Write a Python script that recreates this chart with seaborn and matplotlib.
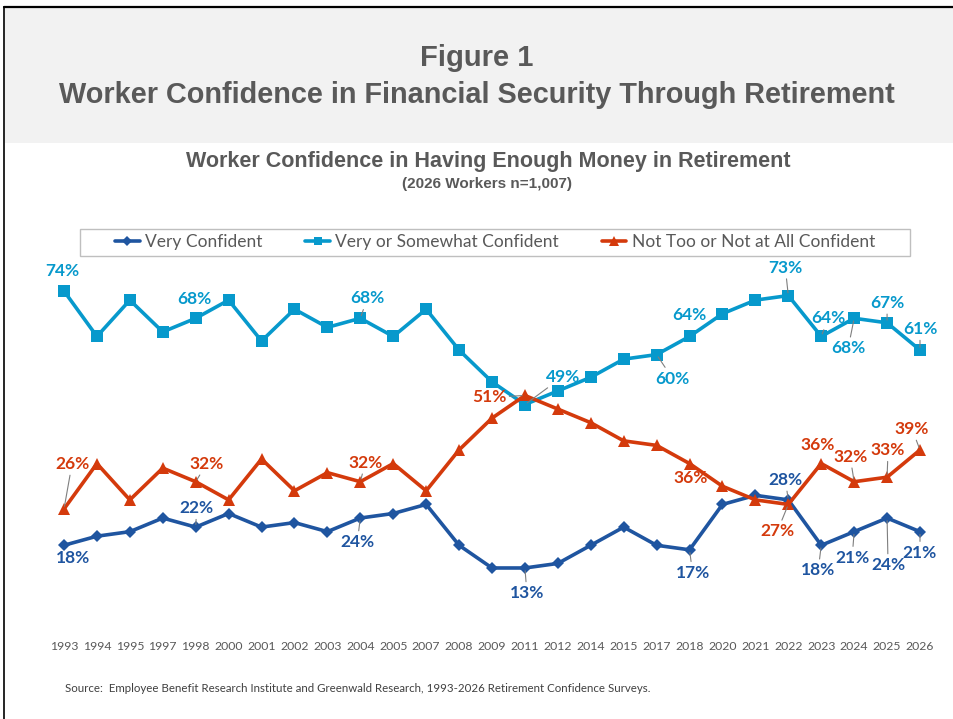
import matplotlib
matplotlib.use("Agg")
import matplotlib.pyplot as plt
from matplotlib.patches import Rectangle
from matplotlib.lines import Line2D
import numpy as np
import pandas as pd
import seaborn as sns

# ---------------- data ----------------
years = ["1993", "1994", "1995", "1997", "1998", "2000", "2001", "2002", "2003",
         "2004", "2005", "2007", "2008", "2009", "2011", "2012", "2014", "2015",
         "2017", "2018", "2020", "2021", "2022", "2023", "2024", "2025", "2026"]
very_confident = [18, 20, 21, 24, 22, 25, 22, 23, 21, 24, 25, 27, 18, 13, 13, 14,
                  18, 22, 18, 17, 27, 29, 28, 18, 21, 24, 21]
very_or_somewhat = [74, 64, 72, 65, 68, 72, 63, 70, 66, 68, 64, 70, 61, 54, 49, 52,
                    55, 59, 60, 64, 69, 72, 73, 64, 68, 67, 61]
not_too = [26, 36, 28, 35, 32, 28, 37, 30, 34, 32, 36, 30, 39, 46, 51, 48,
           45, 41, 40, 36, 31, 28, 27, 36, 32, 33, 39]
series_names = ["Very Confident", "Very or Somewhat Confident",
                "Not Too or Not at All Confident"]

# labelled points: year -> (dx px, dy px, leader line)
vc_labels = {"1993": (9, -13, False), "1998": (1, 19, True), "2004": (-3, -24, True),
             "2011": (2, -25, True), "2018": (3, -23, True), "2022": (-3, 20, True),
             "2023": (-3, -25, True), "2024": (-2, -26, True), "2025": (1, -47, True),
             "2026": (0, -21, True)}
vsc_labels = {"1993": (-2, 20, False), "1998": (-1, 19, False), "2004": (7, 20, True),
              "2011": (38, 28, True), "2017": (16, -24, True), "2018": (0, 21, False),
              "2022": (-3, 28, True), "2023": (7, 18, True), "2024": (-6, -30, True),
              "2025": (0, 20, True), "2026": (0, 21, True)}
nt_labels = {"1993": (8, 45, True), "1998": (11, 18, True), "2004": (5, 19, True),
             "2011": (-36, -2, True), "2018": (1, -14, False), "2022": (-11, -27, True),
             "2023": (-4, 19, False), "2024": (-4, 25, True), "2025": (1, 27, True),
             "2026": (-8, 21, True)}

c_vc = "#1f55a0"
c_vsc = "#0799cc"
c_nt = "#d43a0c"
grey_txt = "#595959"

idx = np.arange(len(years))
df = pd.DataFrame({
    "idx": np.tile(idx, 3),
    "value": very_confident + very_or_somewhat + not_too,
    "series": np.repeat(series_names, len(years)),
})

sns.set_theme(style="white")
plt.rcParams["font.family"] = ["Lato", "DejaVu Sans"]

W, H = 954, 719
fig = plt.figure(figsize=(W / 100, H / 100), dpi=100)

# header band and borders
fig.patches.append(Rectangle((5 / W, (H - 143) / H), 1 - 5 / W, (143 - 7) / H,
                             transform=fig.transFigure, facecolor="#f2f2f2",
                             edgecolor="none", zorder=0))
fig.lines.append(Line2D([4 / W, 1], [(H - 6.5) / H] * 2, transform=fig.transFigure,
                        color="black", lw=1.6))
fig.lines.append(Line2D([4 / W, 4 / W], [0, (H - 6.5) / H], transform=fig.transFigure,
                        color="black", lw=1.2))

fig.text(0.5, 1 - 58 / H, "Figure 1", ha="center", va="center", fontsize=21,
         weight="bold", color=grey_txt, family=["Liberation Sans", "DejaVu Sans"])
fig.text(0.5, 1 - 95 / H, "Worker Confidence in Financial Security Through Retirement",
         ha="center", va="center", fontsize=20.8, weight="bold", color=grey_txt,
         family=["Liberation Sans", "DejaVu Sans"])
fig.text(488 / W, 1 - 161 / H, "Worker Confidence in Having Enough Money in Retirement",
         ha="center", va="center", fontsize=15.5, weight="bold", color=grey_txt,
         family=["Liberation Sans", "DejaVu Sans"])
fig.text(487 / W, 1 - 184 / H, "(2026 Workers n=1,007)", ha="center", va="center",
         fontsize=11, weight="bold", color=grey_txt,
         family=["Liberation Sans", "DejaVu Sans"])

# axes
ax = fig.add_axes([40 / W, (H - 627) / H, 904 / W, 4.54 * 80 / H])
ax.set_facecolor("none")

styles = [
    (series_names[0], c_vc, "D", 6.5),
    (series_names[1], c_vsc, "s", 8.5),
    (series_names[2], c_nt, "^", 9),
]
for name, col, mk, ms in styles:
    sub = df[df["series"] == name]
    sns.lineplot(data=sub, x="idx", y="value", color=col, marker=mk, markersize=ms,
                 markeredgewidth=0, lw=2.6, ax=ax, legend=False, sort=False)

ax.set_xlim(-24 / 32.923, 880 / 32.923)
ax.set_ylim(0, 80)
ax.set_xticks(idx)
ax.set_xticklabels(years, fontsize=8.8, color=grey_txt)
ax.tick_params(axis="x", length=0, pad=10)
ax.set_yticks([])
ax.set_xlabel("")
ax.set_ylabel("")
for s in ax.spines.values():
    s.set_visible(False)


def add_labels(values, labels, color):
    for yr, (dx, dy, leader) in labels.items():
        i = years.index(yr)
        v = values[i]
        kw = {}
        if leader:
            kw["arrowprops"] = dict(arrowstyle="-", color="#7f7f7f", lw=0.8,
                                    shrinkA=0, shrinkB=2)
        ax.annotate(f"{v}%", xy=(i, v), xytext=(dx, dy), textcoords="offset pixels",
                    ha="center", va="center", fontsize=12.5, weight="bold",
                    color=color, zorder=5, **kw)


add_labels(very_confident, vc_labels, c_vc)
add_labels(very_or_somewhat, vsc_labels, c_vsc)
add_labels(not_too, nt_labels, c_nt)

# legend
fig.patches.append(Rectangle((80 / W, (H - 256) / H), 830 / W, 27 / H,
                             transform=fig.transFigure, facecolor="white",
                             edgecolor="#bfbfbf", lw=1, zorder=1))
handles = [Line2D([], [], color=col, marker=mk, markersize=ms * 0.75, markeredgewidth=0,
                  lw=2.6) for _, col, mk, ms in styles]
leg = fig.legend(handles, series_names, loc="center", ncol=3, frameon=False,
                 bbox_to_anchor=(495 / W, 1 - 242.5 / H), bbox_transform=fig.transFigure,
                 fontsize=12.5, handlelength=1.4, handletextpad=0.3, columnspacing=2.5,
                 labelcolor=grey_txt)

fig.text(65 / W, 1 - 688 / H,
         "Source:  Employee Benefit Research Institute and Greenwald Research, "
         "1993-2026 Retirement Confidence Surveys.",
         ha="left", va="center", fontsize=8.3, color="#404040")

fig.savefig("out.png", dpi=100)
